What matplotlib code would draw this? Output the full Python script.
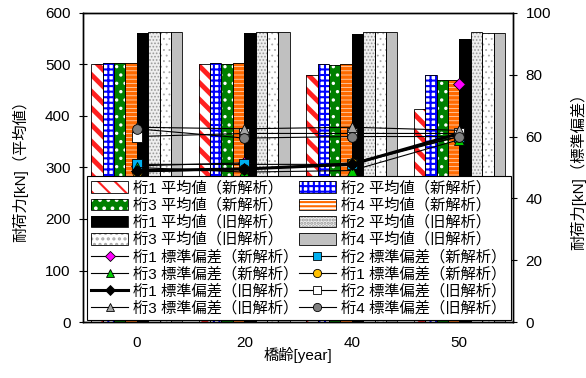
import numpy as np
import matplotlib.pyplot as plt
from matplotlib.patches import Patch

plt.rcParams['font.family'] = ['Liberation Sans', 'Noto Sans CJK JP']
plt.rcParams['hatch.linewidth'] = 1.5

years = ['0', '20', '40', '50']

# mean values [kN] (left axis)
mean_k1_new = [500, 500, 480, 413]
mean_k2_new = [502, 502, 500, 480]
mean_k3_new = [502, 500, 498, 470]
mean_k4_new = [502, 502, 500, 470]
mean_k1_old = [560, 560, 558, 550]
mean_k2_old = [562, 562, 562, 562]
mean_k3_old = [562, 562, 562, 560]
mean_k4_old = [562, 562, 562, 560]

# standard deviations [kN] (right axis)
std_k1_new = [50.5, 51.5, np.nan, 77]
std_k2_new = [51, 51, 51, 60]
std_k3_new = [50, 48.5, 49, 59]
std_k4_new = [48.5, 49.5, 51.5, 60]
std_k1_old = [49, 49.5, 51, 61]
std_k2_old = [60, 61, 61, 61]
std_k3_old = [63, 62.5, 63, 62]
std_k4_old = [62.5, 59.5, 60, 60]

mean_labels = ['桁1 平均値（新解析）', '桁2 平均値（新解析）', '桁3 平均値（新解析）', '桁4 平均値（新解析）',
               '桁1 平均値（旧解析）', '桁2 平均値（旧解析）', '桁3 平均値（旧解析）', '桁4 平均値（旧解析）']
std_labels = ['桁1 標準偏差（新解析）', '桁2 標準偏差（新解析）', '桁3 標準偏差（新解析）', '桁1 標準偏差（新解析）',
              '桁1 標準偏差（旧解析）', '桁2 標準偏差（旧解析）', '桁3 標準偏差（旧解析）', '桁4 標準偏差（旧解析）']

means = [mean_k1_new, mean_k2_new, mean_k3_new, mean_k4_new,
         mean_k1_old, mean_k2_old, mean_k3_old, mean_k4_old]
stds = [std_k1_new, std_k2_new, std_k3_new, std_k4_new,
        std_k1_old, std_k2_old, std_k3_old, std_k4_old]

# face colour, hatch, hatch colour, hatch linewidth
bar_styles = [
    ('white', '\\\\', '#ff2020', 3.5),
    ('white', '+++', '#0000ff', 1.5),
    ('#008000', '..', 'white', 1.2),
    ('white', '----', '#ff6a00', 2.6),
    ('black', None, 'black', 1.0),
    ('#eeeeee', '.....', '#999999', 0.8),
    ('white', '...', '#aaaaaa', 0.6),
    ('#c0c0c0', None, '#c0c0c0', 1.0),
]

# marker, face colour, line width
line_styles = [
    ('D', '#ff00ff', 0.8),
    ('s', '#00b0f0', 0.8),
    ('^', '#00cc00', 0.8),
    ('o', '#ffc000', 0.8),
    ('D', 'black', 2.2),
    ('s', 'white', 0.8),
    ('^', '#a6a6a6', 0.8),
    ('o', '#808080', 0.8),
]

fig = plt.figure(figsize=(5.86, 3.78), dpi=100)
ax = fig.add_axes([0.1416, 0.148, 0.734, 0.818])
ax2 = ax.twinx()

x = np.arange(len(years))
nb = len(means)
w = 0.106
handles = []
for i in range(nb):
    face, hatch, hcol, hlw = bar_styles[i]
    pos = x + (i - (nb - 1) / 2) * w
    with plt.rc_context({'hatch.linewidth': hlw}):
        bars = ax.bar(pos, means[i], w, color=face, edgecolor=hcol, hatch=hatch, linewidth=0, zorder=2)
        p1 = Patch(facecolor=face, edgecolor=hcol, hatch=hatch, linewidth=0)
    for b in list(bars) + [p1]:
        b.set_hatch_linewidth(hlw)
    ax.bar(pos, means[i], w, fill=False, edgecolor='black', linewidth=0.6, zorder=3)
    p2 = Patch(fill=False, edgecolor='black', linewidth=0.6)
    handles.append((p1, p2))

line_handles = []
for i in range(nb):
    m, fc, lw = line_styles[i]
    ms = 6 if m == 'D' else 7
    ln, = ax2.plot(x, stds[i], color='black', lw=lw, marker=m, markersize=ms,
                   markerfacecolor=fc, markeredgecolor='black', markeredgewidth=0.6, zorder=3)
    line_handles.append(ln)

ax.set_xlim(-0.5, 3.5)
ax.set_ylim(0, 600)
ax.set_yticks(np.arange(0, 601, 100))
ax2.set_ylim(0, 100)
ax2.set_yticks(np.arange(0, 101, 20))
ax.set_xticks(x)
ax.set_xticklabels(years)
ax.tick_params(axis='x', length=0, labelsize=11, pad=10)
ax.tick_params(axis='y', direction='inout', length=6, labelsize=11, pad=6)
ax2.tick_params(axis='y', direction='inout', length=6, labelsize=11, pad=6)
for a in (ax, ax2):
    for s in a.spines.values():
        s.set_linewidth(1.0)

ax.set_xlabel('橋齢[year]', fontsize=11, labelpad=-2)
ax.set_ylabel('耐荷力[kN]（平均値）', fontsize=11, labelpad=12)
ax2.set_ylabel('耐荷力[kN]（標準偏差）', fontsize=11, labelpad=14)

all_handles = handles + line_handles
all_labels = mean_labels + std_labels
# legend fills row by row: reorder for matplotlib's column filling
order = list(range(0, 16, 2)) + list(range(1, 16, 2))
leg = ax2.legend([all_handles[k] for k in order], [all_labels[k] for k in order],
                 ncol=2, loc='lower left', bbox_to_anchor=(0.009, 0.006, 0.986, 0.463),
                 mode='expand', borderaxespad=0, fontsize=11, labelspacing=0.17,
                 handlelength=2.4, handleheight=0.8, handletextpad=0.35, columnspacing=0.8,
                 fancybox=False, framealpha=1, edgecolor='black', borderpad=0.3,
                 markerscale=0.85)
leg.get_frame().set_linewidth(0.8)
leg.set_zorder(10)

fig.savefig('out.png', dpi=100)
